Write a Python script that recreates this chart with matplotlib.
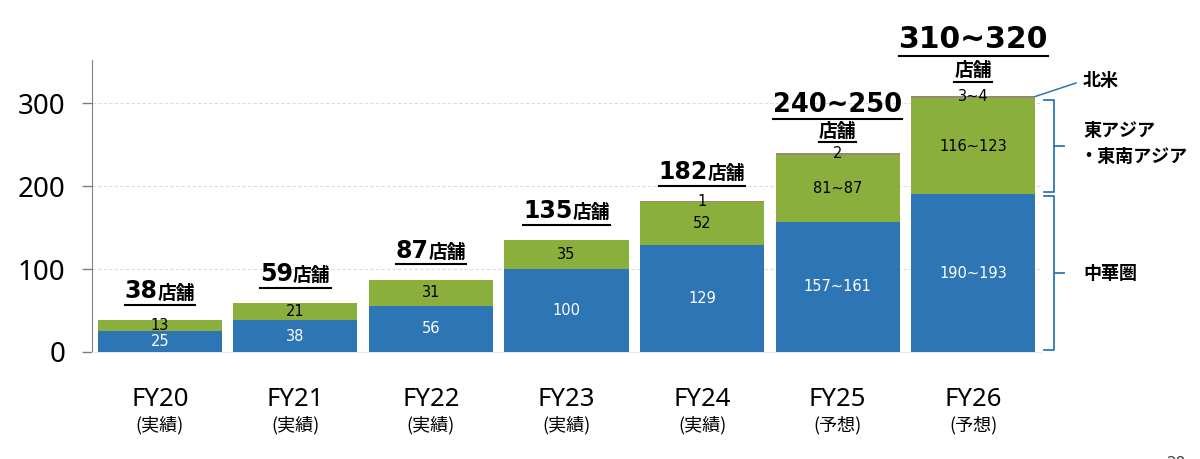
import matplotlib
matplotlib.use("Agg")
import matplotlib.pyplot as plt
import matplotlib.transforms as mtransforms
from matplotlib.lines import Line2D
import numpy as np

# ---- data ----
years = ["FY20", "FY21", "FY22", "FY23", "FY24", "FY25", "FY26"]
status = ["(実績)", "(実績)", "(実績)", "(実績)", "(実績)", "(予想)", "(予想)"]
greater_china = [25, 38, 56, 100, 129, 157, 190]
east_asia = [13, 21, 31, 35, 52, 81, 116]
north_america = [0, 0, 0, 0, 1, 2, 3]
gc_labels = ["25", "38", "56", "100", "129", "157~161", "190~193"]
ea_labels = ["13", "21", "31", "35", "52", "81~87", "116~123"]
na_labels = ["", "", "", "", "1", "2", "3~4"]
total_labels = ["38", "59", "87", "135", "182", "240~250", "310~320"]
unit = "店舗"
yticks = [0, 100, 200, 300]

BLUE = "#2E75B6"
GREEN = "#8AAF3C"
TAUPE = "#978878"
CJK = "Noto Sans CJK JP"

plt.rcParams["font.family"] = ["DejaVu Sans", CJK]

fig = plt.figure(figsize=(12, 4.59), dpi=100)
ax = fig.add_axes([92 / 1200, 1 - 352 / 459, (1041 - 92) / 1200, (352 - 60) / 459])

x = np.arange(len(years))
w = 0.915
b1 = ax.bar(x, greater_china, w, color=BLUE, zorder=3)
b2 = ax.bar(x, east_asia, w, bottom=greater_china, color=GREEN, zorder=3)
bot3 = np.array(greater_china) + np.array(east_asia)
b3 = ax.bar(x, north_america, w, bottom=bot3, color=TAUPE, zorder=3)

ax.bar_label(b1, labels=gc_labels, label_type="center", color="white", fontsize=10.5, zorder=4)
ax.bar_label(b2, labels=ea_labels, label_type="center", color="black", fontsize=10.5, zorder=4)
ax.bar_label(b3, labels=na_labels, label_type="center", color="black", fontsize=10.5, zorder=4)

ax.set_xlim(-0.5, len(years) - 0.5)
ax.set_ylim(0, 352)
ax.set_yticks(yticks)
ax.set_yticklabels([str(v) for v in yticks], fontsize=20, family="Noto Sans")
ax.tick_params(axis="y", length=7, width=1, color="#808080", pad=12)
ax.yaxis.grid(True, linestyle=(0, (3, 2)), color="#dcdcdc", linewidth=0.8, zorder=0)
for s in ["top", "right"]:
    ax.spines[s].set_visible(False)
ax.spines["left"].set_color("#808080")
ax.spines["bottom"].set_color("#ececec")

ax.set_xticks(x)
ax.set_xticklabels(years, fontsize=18.5, family="Noto Sans")
ax.tick_params(axis="x", length=0, pad=25)
for xi, st in zip(x, status):
    ax.annotate(st, xy=(xi, 0), xycoords=ax.get_xaxis_transform(), xytext=(0, -52.5),
                textcoords="offset points", ha="center", va="center", fontsize=13,
                family=[CJK], annotation_clip=False)

fig.canvas.draw()
renderer = fig.canvas.get_renderer()


def underline(texts, gap=1.5):
    bbs = [t.get_window_extent(renderer) for t in texts]
    x0 = min(b.x0 for b in bbs)
    x1 = max(b.x1 for b in bbs)
    y0 = min(b.y0 for b in bbs) - gap
    inv = fig.transFigure.inverted()
    (fx0, fy), (fx1, _) = inv.transform([(x0, y0), (x1, y0)])
    fig.add_artist(Line2D([fx0, fx1], [fy, fy], color="black", linewidth=1.5))


totals = bot3 + np.array(north_america)
for i, (xi, tl, tot) in enumerate(zip(x, total_labels, totals)):
    if "~" not in tl:
        base = ax.transData
        t1 = ax.text(xi, tot, tl, fontsize=17, fontweight="bold", ha="left", va="baseline")
        t2 = ax.text(xi, tot, unit, fontsize=13.5, fontweight="bold", ha="left", va="baseline",
                     family=[CJK])
        fig.canvas.draw()
        w1 = t1.get_window_extent(renderer).width
        w2 = t2.get_window_extent(renderer).width
        tw = w1 + w2
        dy = 22
        t1.set_transform(mtransforms.offset_copy(base, fig=fig, x=-tw / 2, y=dy, units="dots"))
        t2.set_transform(mtransforms.offset_copy(base, fig=fig, x=-tw / 2 + w1, y=dy, units="dots"))
        fig.canvas.draw()
        underline([t1, t2])
    else:
        if i == 5:
            num_fs, unit_off, num_off = 18.5, 11.5, 29.5
        else:
            num_fs, unit_off, num_off = 21.5, 14, 34
        t2 = ax.annotate(unit, xy=(xi, tot), xytext=(0, unit_off), textcoords="offset points",
                         ha="center", va="baseline", fontsize=13.5, fontweight="bold",
                         family=[CJK], annotation_clip=False)
        t1 = ax.annotate(tl, xy=(xi, tot), xytext=(0, num_off),
                         textcoords="offset points", ha="center", va="baseline",
                         fontsize=num_fs, fontweight="bold", annotation_clip=False)
        fig.canvas.draw()
        underline([t1])
        underline([t2])

# ---- right-hand annotations ----
last = len(years) - 1
right_edge = last + w / 2
trans = ax.transData
inv = fig.transFigure.inverted()


def fig_pt(xd, yd, dx_px=0.0):
    px, py = trans.transform((xd, yd))
    return inv.transform((px + dx_px, py))


# 北米 leader line
p0 = fig_pt(right_edge, totals[last] - 1)
p1 = inv.transform((1076, 459 - 83))
fig.add_artist(Line2D([p0[0], p1[0]], [p0[1], p1[1]], color="#2E75B6", linewidth=1.1))
fig.text(1083 / 1200, 1 - 80 / 459, "北米", fontsize=13, fontweight="bold", family=[CJK],
         ha="left", va="center")


def bracket(y_lo, y_hi):
    _, pyl = trans.transform((right_edge, y_lo))
    _, pyh = trans.transform((right_edge, y_hi))
    pyl += 2
    pyh -= 2
    xs = 1054
    xl = 1044
    xr = 1064
    pts = [(xl, pyh), (xs, pyh), (xs, pyl), (xl, pyl)]
    fp = inv.transform(pts)
    fig.add_artist(Line2D(fp[:, 0], fp[:, 1], color="#2E75B6", linewidth=1.3))
    mid = (pyl + pyh) / 2
    fm = inv.transform([(xs, mid), (xr, mid)])
    fig.add_artist(Line2D(fm[:, 0], fm[:, 1], color="#2E75B6", linewidth=1.3))
    return mid


mid_ea = bracket(greater_china[last], bot3[last])
mid_gc = bracket(0, greater_china[last])
fig.text(1083 / 1200, 1 - 130 / 459, "東アジア", fontsize=13, fontweight="bold", family=[CJK],
         ha="left", va="center")
fig.text(1079 / 1200, 1 - 156 / 459, "・東南アジア", fontsize=13, fontweight="bold", family=[CJK],
         ha="left", va="center")
fig.text(1083 / 1200, mid_gc / 459, "中華圏", fontsize=13, fontweight="bold", family=[CJK],
         ha="left", va="center")

# page number (partly cut off at the bottom edge)
fig.text(1176 / 1200, -4 / 459, "28", fontsize=11, color="#404040", ha="center", va="center")

fig.savefig("out.png", dpi=100)
